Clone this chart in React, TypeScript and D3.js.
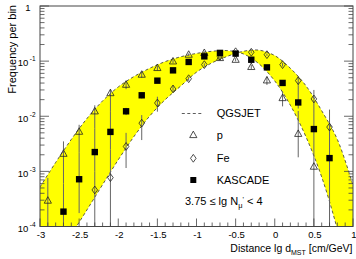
import { useEffect, useRef } from 'react'
import * as d3 from 'd3'

const WIDTH = 356
const HEIGHT = 259

// bin centres in lg(d_MST / (cm/GeV))
const binCenters = [-2.9, -2.7, -2.5, -2.3, -2.1, -1.9, -1.7, -1.5, -1.3, -1.1, -0.9, -0.7, -0.5, -0.3, -0.1, 0.1, 0.3, 0.5, 0.7, 0.9]

// KASCADE data (frequency per bin) with error bar ends (0 = down to the axis)
const kascade = [null, 1.86e-4, 7.2e-4, 2.24e-3, 5.2e-3, 0.0123, 0.024, 0.0442, 0.068, 0.0966, 0.122, 0.141, 0.137, 0.106, 0.077, 0.0402, 0.0178, 5.85e-3, 1.74e-3, null]
const kascadeLo = [null, 0, 1.75e-4, 1.0e-3, 2.5e-3, 0.0105, 0.021, 0.041, 0.064, 0.092, 0.117, 0.136, 0.132, 0.101, 0.073, 0.037, 0.0138, 3.7e-3, 0, null]
const kascadeHi = [null, 6e-4, 2.2e-3, 6e-3, 0.012, 0.0142, 0.027, 0.047, 0.072, 0.101, 0.127, 0.146, 0.142, 0.111, 0.081, 0.0435, 0.036, 0.011, 6.4e-3, null]

// simulated protons (QGSJET p)
const proton = [2.95e-4, 2.09e-3, 5.25e-3, 0.0123, 0.0263, 0.0374, 0.0569, 0.0752, 0.099, 0.131, 0.141, 0.114, 0.106, 0.0785, 0.0448, 0.0214, 4.8e-3, 1.22e-3, null, null]
const protonLo = [0, 6e-4, 2.2e-3, 6e-3, 0.012, 0.031, 0.05, 0.068, 0.092, 0.124, 0.134, 0.107, 0.099, 0.072, 0.037, 0.0151, 1.8e-3, 0, null, null]
const protonHi = [7.6e-4, 3.5e-3, 7.0e-3, 0.0158, 0.031, 0.044, 0.064, 0.082, 0.106, 0.138, 0.148, 0.121, 0.113, 0.085, 0.052, 0.0282, 0.0125, 3.7e-3, null, null]

// simulated iron (QGSJET Fe)
const iron = [null, null, null, 4.6e-4, 7.7e-4, 2.83e-3, 7.5e-3, 0.0174, 0.0313, 0.048, 0.0863, 0.122, 0.148, 0.145, 0.131, 0.0863, 0.0442, 0.0206, 6.37e-3, null]
const ironLo = [null, null, null, 0, 0, 1.15e-3, 3.7e-3, 0.0121, 0.027, 0.044, 0.081, 0.116, 0.142, 0.139, 0.125, 0.08, 0.036, 0.011, 0, null]
const ironHi = [null, null, null, 1.0e-3, 2.5e-3, 5.0e-3, 0.0105, 0.0226, 0.036, 0.052, 0.091, 0.128, 0.154, 0.151, 0.137, 0.093, 0.0525, 0.03, 0.0132, null]

// QGSJET expectation curves bounding the band
const curveX = [-3, -2.8, -2.6, -2.4, -2.2, -2, -1.8, -1.6, -1.4, -1.2, -1, -0.8, -0.6, -0.4, -0.2, 0, 0.2, 0.4, 0.6, 0.8, 1]
const qgsjetP = [5.2e-4, 1.45e-3, 3.8e-3, 9.1e-3, 0.019, 0.034, 0.0525, 0.074, 0.098, 0.12, 0.138, 0.151, 0.155, 0.135, 0.089, 0.0437, 0.0158, 4.2e-3, 7.9e-4, 8.9e-5, 6.3e-6]
const qgsjetFe = [5e-6, 2.5e-5, 7.1e-5, 2.0e-4, 5.75e-4, 1.62e-3, 4.27e-3, 0.01, 0.02, 0.0355, 0.063, 0.0933, 0.123, 0.151, 0.158, 0.126, 0.0741, 0.0355, 0.0126, 3.8e-3, 5.6e-4]

// axes
const xTickValues = [-3, -2.5, -2, -1.5, -1, -0.5, 0, 0.5, 1]
const xTickLabels = ['-3', '-2.5', '-2', '-1.5', '-1', '-0.5', '0', '0.5', '1']
const yTickExponents = [0, -1, -2, -3, -4]

const legendLabels = ['QGSJET', 'p', 'Fe', 'KASCADE']

const FONT = 'Liberation Sans, Arial, Helvetica, sans-serif'

const triPath = 'M0,-3.9L3.6,2.6L-3.6,2.6Z'
const diaPath = 'M0,-3.9L2.8,0L0,3.9L-2.8,0Z'

export default function App() {
  const ref = useRef<SVGSVGElement | null>(null)

  useEffect(() => {
    const el = ref.current
    if (!el) return
    const svg = d3.select(el)
    svg.selectAll('*').remove()

    const left = 40
    const right = 353
    const top = 6
    const bottom = 226.5

    const x = d3.scaleLinear().domain([-3, 1]).range([left, right])
    const y = d3.scaleLog().domain([1e-4, 1]).range([bottom, top])

    svg.append('rect').attr('width', WIDTH).attr('height', HEIGHT).attr('fill', '#fff')

    svg
      .append('defs')
      .append('clipPath')
      .attr('id', 'plotclip')
      .append('rect')
      .attr('x', left)
      .attr('y', top)
      .attr('width', right - left)
      .attr('height', bottom - top)

    const plot = svg.append('g').attr('clip-path', 'url(#plotclip)')

    // yellow band between p and Fe expectations
    const band = curveX.map((cx, i) => ({ cx, p: qgsjetP[i], fe: qgsjetFe[i] }))
    const area = d3
      .area<{ cx: number; p: number; fe: number }>()
      .x((d) => x(d.cx))
      .y0((d) => y(d.p))
      .y1((d) => y(d.fe))
      .curve(d3.curveCatmullRom)
    plot.append('path').datum(band).attr('d', area).attr('fill', '#ffff00')

    const line = d3
      .line<number>()
      .x((_, i) => x(curveX[i]))
      .y((d) => y(d))
      .curve(d3.curveCatmullRom)
    ;[qgsjetP, qgsjetFe].forEach((c) => {
      plot
        .append('path')
        .attr('d', line(c))
        .attr('fill', 'none')
        .attr('stroke', '#333')
        .attr('stroke-width', 0.8)
        .attr('stroke-dasharray', '3,2.5')
    })

    // error bars
    const series = [
      { v: proton, lo: protonLo, hi: protonHi },
      { v: iron, lo: ironLo, hi: ironHi },
      { v: kascade, lo: kascadeLo, hi: kascadeHi },
    ]
    series.forEach((s) => {
      binCenters.forEach((bx, i) => {
        if (s.v[i] == null) return
        const lo = s.lo[i] as number
        const hi = s.hi[i] as number
        plot
          .append('line')
          .attr('x1', x(bx))
          .attr('x2', x(bx))
          .attr('y1', lo > 0 ? y(lo) : bottom + 2)
          .attr('y2', y(hi))
          .attr('stroke', '#666')
          .attr('stroke-width', 1)
      })
    })

    // markers
    const pts = (vals: (number | null)[]) =>
      binCenters.map((bx, i) => ({ bx, v: vals[i] })).filter((d) => d.v != null) as { bx: number; v: number }[]

    plot
      .selectAll('path.tri')
      .data(pts(proton))
      .join('path')
      .attr('class', 'tri')
      .attr('d', triPath)
      .attr('transform', (d) => `translate(${x(d.bx)},${y(d.v)})`)
      .attr('fill', 'none')
      .attr('stroke', '#222')
      .attr('stroke-width', 0.8)

    plot
      .selectAll('path.dia')
      .data(pts(iron))
      .join('path')
      .attr('class', 'dia')
      .attr('d', diaPath)
      .attr('transform', (d) => `translate(${x(d.bx)},${y(d.v)})`)
      .attr('fill', 'none')
      .attr('stroke', '#222')
      .attr('stroke-width', 0.8)

    plot
      .selectAll('rect.sq')
      .data(pts(kascade))
      .join('rect')
      .attr('class', 'sq')
      .attr('x', (d) => x(d.bx) - 3.2)
      .attr('y', (d) => y(d.v) - 3.2)
      .attr('width', 6.4)
      .attr('height', 6.4)
      .attr('fill', '#000')

    // frame
    svg
      .append('rect')
      .attr('x', left)
      .attr('y', top)
      .attr('width', right - left)
      .attr('height', bottom - top)
      .attr('fill', 'none')
      .attr('stroke', '#444')
      .attr('stroke-width', 1)

    const axes = svg.append('g').attr('stroke', '#444').attr('stroke-width', 0.8)

    // x ticks (inward)
    x.ticks(40).forEach((t) => {
      const major = xTickValues.some((m) => Math.abs(m - t) < 1e-6)
      axes
        .append('line')
        .attr('x1', x(t))
        .attr('x2', x(t))
        .attr('y1', bottom)
        .attr('y2', bottom - (major ? 8 : 4))
    })

    // y ticks (inward, both sides)
    yTickExponents.forEach((e) => {
      const v = Math.pow(10, e)
      ;[left, right].forEach((ax) => {
        const dir = ax === left ? 1 : -1
        axes
          .append('line')
          .attr('x1', ax)
          .attr('x2', ax + dir * 9)
          .attr('y1', y(v))
          .attr('y2', y(v))
        if (e > -4) {
          for (let k = 2; k <= 9; k++) {
            const mv = k * Math.pow(10, e - 1)
            axes
              .append('line')
              .attr('x1', ax)
              .attr('x2', ax + dir * 4.5)
              .attr('y1', y(mv))
              .attr('y2', y(mv))
          }
        }
      })
    })

    // tick labels
    const labels = svg.append('g').attr('font-family', FONT).attr('fill', '#000')
    xTickValues.forEach((t, i) => {
      labels
        .append('text')
        .attr('x', x(t) + 1)
        .attr('y', 238)
        .attr('text-anchor', 'middle')
        .attr('font-size', 9.5)
        .text(xTickLabels[i])
    })

    yTickExponents.forEach((e) => {
      const yy = y(Math.pow(10, e)) + 5.3
      if (e === 0) {
        labels.append('text').attr('x', 30.5).attr('y', yy).attr('text-anchor', 'end').attr('font-size', 9.5).text('1')
      } else {
        const t = labels.append('text').attr('x', 35.5).attr('y', yy).attr('text-anchor', 'end').attr('font-size', 9.5)
        t.append('tspan').text('10')
        t.append('tspan').attr('dy', -5).attr('dx', 1.5).attr('font-size', 6.5).text(String(e))
      }
    })

    // axis titles
    const xt = labels.append('text').attr('x', 352.5).attr('y', 252).attr('text-anchor', 'end').attr('font-size', 10.5)
    xt.append('tspan').text('Distance lg d')
    xt.append('tspan').attr('dy', 2.8).attr('font-size', 7).text('MST')
    xt.append('tspan').attr('dy', -2.8).text(' [cm/GeV]')

    labels
      .append('text')
      .attr('transform', 'translate(15.5,5) rotate(-90)')
      .attr('text-anchor', 'end')
      .attr('font-size', 11)
      .text('Frequency per bin')

    // legend
    const lg = svg.append('g')
    const lx = 193.3
    const tx = 216.7
    const rows = [113.5, 135, 158.3, 180]
    lg.append('line')
      .attr('x1', lx - 11.5)
      .attr('x2', lx + 8.5)
      .attr('y1', rows[0])
      .attr('y2', rows[0])
      .attr('stroke', '#333')
      .attr('stroke-width', 0.8)
      .attr('stroke-dasharray', '3,2.5')
    lg.append('path').attr('d', triPath).attr('transform', `translate(${lx},${rows[1]})`).attr('fill', 'none').attr('stroke', '#222').attr('stroke-width', 0.8)
    lg.append('path').attr('d', diaPath).attr('transform', `translate(${lx},${rows[2]})`).attr('fill', 'none').attr('stroke', '#222').attr('stroke-width', 0.8)
    lg.append('rect').attr('x', lx - 3).attr('y', rows[3] - 3).attr('width', 6).attr('height', 6).attr('fill', '#000')

    legendLabels.forEach((l, i) => {
      lg.append('text')
        .attr('x', tx)
        .attr('y', rows[i] + 3.8)
        .attr('font-family', FONT)
        .attr('font-size', 11)
        .attr('fill', '#000')
        .text(l)
    })

    const cut = lg.append('text').attr('x', 185).attr('y', 205).attr('font-family', FONT).attr('font-size', 11).attr('fill', '#000')
    cut.append('tspan').text('3.75 \u2264 lg N')
    cut.append('tspan').attr('dy', 2.5).attr('font-size', 7.5).text('\u03bc')
    cut.append('tspan').attr('dy', -6).attr('font-size', 7.5).text("'")
    cut.append('tspan').attr('dy', 3.5).text(' < 4')
  }, [])

  return (
    <svg
      ref={ref}
      width={WIDTH}
      height={HEIGHT}
      style={{ position: 'absolute', left: 0, top: 0, display: 'block' }}
    />
  )
}
